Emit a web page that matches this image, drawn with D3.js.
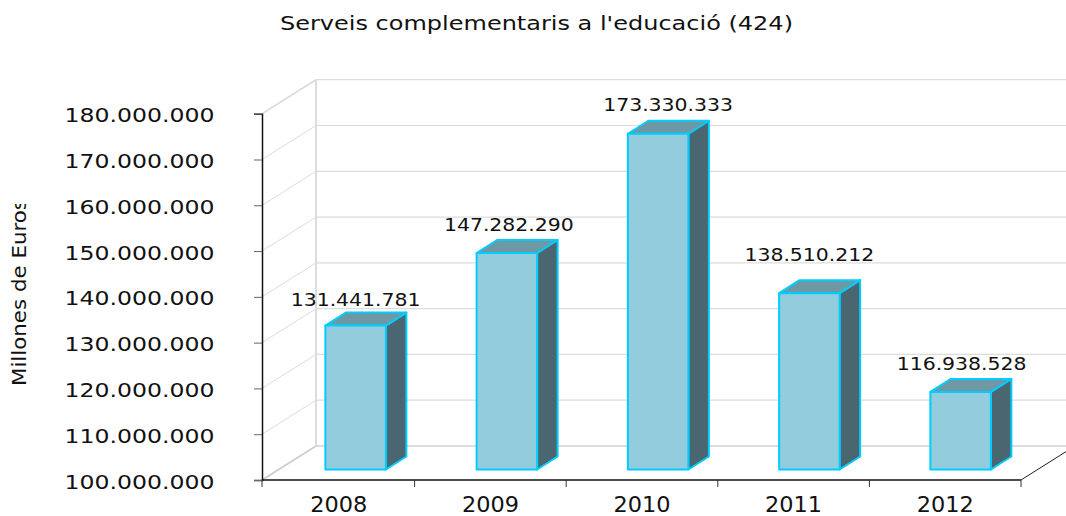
<!DOCTYPE html>
<html lang="en">
<head>
<meta charset="utf-8">
<title>Serveis complementaris a l'educació (424)</title>
<script src="https://d3js.org/d3.v7.min.js"></script>
<style>
  html, body { margin: 0; padding: 0; background: #fff; overflow: hidden; }
  text { font-family: "DejaVu Sans", sans-serif; fill: #111; }
</style>
</head>
<body>
<div id="canvas"></div>
<script>
const years = ["2008", "2009", "2010", "2011", "2012"];
const values = [131441781, 147282290, 173330333, 138510212, 116938528];
const yTicks = [100000000, 110000000, 120000000, 130000000, 140000000, 150000000, 160000000, 170000000, 180000000];
const chartTitle = "Serveis complementaris a l'educació (424)";
const yTitle = "Millones de Euros";

const width = 1066, height = 516;
const plotLeft = 262, plotRight = 1021, plotTop = 113.7, plotBottom = 480;
// 3d offset of back wall and of the bars
const depthX = 54, depthY = -34;
const barDX = 20.5, barDY = -13, barW = 60.5;
const barShiftX = 18, barShiftY = -10.5;
// the value labels don't sit the same distance from every bar in the original
const labelShift = [[0, -7], [2, -9], [10, -10], [0, -19], [1, -9]];

const fmt = d3.formatLocale({ decimal: ",", thousands: ".", grouping: [3], currency: ["", ""] }).format(",d");

const x = d3.scaleBand().domain(years).range([plotLeft + 1, plotRight]);
// bars run on a slightly tighter step than the axis ticks
const xBars = d3.scaleBand().domain(years).range([plotLeft, plotLeft + 5 * 151.25]);
const y = d3.scaleLinear().domain([100000000, 180000000]).range([plotBottom, plotTop]);

const svg = d3.select("#canvas").append("svg")
    .attr("width", width)
    .attr("height", height)
    .style("display", "block");

// stretched text helper, the original font is wider than it is tall
function fit(sel, len) {
  return sel.attr("textLength", len).attr("lengthAdjust", "spacingAndGlyphs");
}

fit(svg.append("text")
    .attr("x", 280).attr("y", 29.5)
    .attr("font-size", 19)
    .text(chartTitle), 513);

// walls
const grid = svg.append("g").attr("fill", "none").attr("stroke", "#dcdcdc");

grid.selectAll("line.side")
  .data(yTicks)
  .join("line")
    .attr("class", "side")
    .attr("x1", plotLeft).attr("x2", plotLeft + depthX)
    .attr("y1", d => y(d)).attr("y2", d => y(d) + depthY)
    .attr("stroke", (d, i) => i === 0 ? "#cccccc" : null)
    .attr("stroke-width", (d, i) => i === 0 || i === yTicks.length - 1 ? 1.6 : 1);

grid.selectAll("line.back")
  .data(yTicks)
  .join("line")
    .attr("class", "back")
    .attr("x1", plotLeft + depthX).attr("x2", width)
    .attr("y1", d => y(d) + depthY).attr("y2", d => y(d) + depthY)
    .attr("stroke-width", (d, i) => i === 0 ? 2 : 1.2);

grid.append("line")
    .attr("x1", plotLeft + depthX).attr("x2", plotLeft + depthX)
    .attr("y1", y(180000000) + depthY).attr("y2", y(100000000) + depthY)
    .attr("stroke-width", 2);

// floor edge on the right
svg.append("line")
    .attr("x1", plotRight).attr("y1", plotBottom)
    .attr("x2", plotRight + depthX).attr("y2", plotBottom + depthY)
    .attr("stroke", "#222");

// axes
const yAxis = d3.axisLeft(y).tickValues(yTicks).tickFormat(fmt).tickSize(8).tickPadding(10);
const gy = svg.append("g").attr("transform", `translate(${plotLeft},0)`).call(yAxis);
gy.select(".domain").attr("stroke", "#111").attr("stroke-width", 1.5);
gy.selectAll(".tick line").attr("stroke", "#666");
fit(gy.selectAll(".tick text").attr("font-size", 20).attr("dy", "0.4em").attr("x", -47.5), 150);

const xAxis = d3.axisBottom(x).tickSize(0).tickPadding(17.5);
const gx = svg.append("g").attr("transform", `translate(0,${plotBottom})`).call(xAxis);
gx.select(".domain").remove();
fit(gx.selectAll(".tick text").attr("font-size", 20.5), 57);

svg.append("line")
    .attr("x1", plotLeft).attr("x2", plotRight)
    .attr("y1", plotBottom).attr("y2", plotBottom)
    .attr("stroke", "#111").attr("stroke-width", 1.5);

const tickX = i => i === 0 ? plotLeft : plotLeft + 1 + i * x.step();
svg.append("g").selectAll("line")
  .data(d3.range(years.length + 1))
  .join("line")
    .attr("x1", tickX).attr("x2", tickX)
    .attr("y1", plotBottom).attr("y2", plotBottom + 7)
    .attr("stroke", "#333");

// y title, cut off at the top like the original
svg.append("clipPath").attr("id", "ytitle-clip")
  .append("rect").attr("x", 0).attr("y", 204).attr("width", 40).attr("height", 200);

fit(svg.append("g").attr("clip-path", "url(#ytitle-clip)")
  .append("text")
    .attr("transform", "translate(26,386) rotate(-90)")
    .attr("font-size", 20)
    .text(yTitle), 187);

// bars
const bars = svg.append("g").selectAll("g")
  .data(values)
  .join("g")
    .attr("stroke", "#00ccff")
    .attr("stroke-width", 2)
    .attr("stroke-linejoin", "round");

const bx = (d, i) => xBars(years[i]) + (xBars.bandwidth() - barW) / 2 + barShiftX;
const by = d => y(d) + barShiftY;
const by0 = y(100000000) + barShiftY;

bars.append("path")
    .attr("fill", "#4a6670")
    .attr("d", (d, i) => {
      const r = bx(d, i) + barW;
      return `M${r},${by(d)}l${barDX},${barDY}V${by0 + barDY}l${-barDX},${-barDY}Z`;
    });

bars.append("path")
    .attr("fill", "#6f98a5")
    .attr("d", (d, i) => `M${bx(d, i)},${by(d)}l${barDX},${barDY}h${barW}l${-barDX},${-barDY}Z`);

bars.append("rect")
    .attr("fill", "#93cddd")
    .attr("x", bx)
    .attr("y", by)
    .attr("width", barW)
    .attr("height", d => by0 - by(d));

// value labels
fit(svg.append("g").selectAll("text")
  .data(values)
  .join("text")
    .attr("x", (d, i) => bx(d, i) + barW / 2 + labelShift[i][0])
    .attr("y", (d, i) => by(d) + barDY + labelShift[i][1])
    .attr("text-anchor", "middle")
    .attr("font-size", 17)
    .text(d => fmt(d)), 130);
</script>
</body>
</html>
